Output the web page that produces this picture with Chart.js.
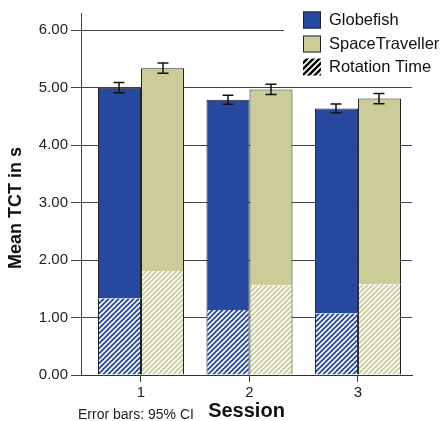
<!DOCTYPE html>
<html>
<head>
<meta charset="utf-8">
<script src="https://cdn.jsdelivr.net/npm/chart.js@4.4.0/dist/chart.umd.min.js"></script>
<style>
body { margin: 0; background: #fff; }
canvas { display: block; }
</style>
</head>
<body>
<canvas id="chart" width="443" height="421"></canvas>
<script>
// data
const sessions = ["1", "2", "3"]
const seriesNames = ["Globefish", "SpaceTraveller"]
const globefishTct = [5.00, 4.79, 4.64]
const spaceTct = [5.34, 4.97, 4.81]
const globefishRot = [1.33, 1.13, 1.07]
const spaceRot = [1.81, 1.56, 1.58]
const globefishCi = [0.09, 0.08, 0.075]
const spaceCi = [0.09, 0.09, 0.09]
const yTicks = [0, 1, 2, 3, 4, 5, 6]
const rotationLabel = "Rotation Time"
const yTitle = "Mean TCT in s"
const xTitle = "Session"
const note = "Error bars: 95% CI"

const blue = "#2748a0"
const khaki = "#cccc99"
const family = "'Liberation Sans', Arial, sans-serif"
Chart.defaults.font.family = family

function hatch(base, stripe, size, lw){
    let c = document.createElement("canvas")
    c.width = size
    c.height = size
    let g = c.getContext("2d")
    g.fillStyle = base
    g.fillRect(0, 0, size, size)
    g.strokeStyle = stripe
    g.lineWidth = lw
    g.beginPath()
    g.moveTo(-1, size + 1); g.lineTo(size + 1, -1)
    g.moveTo(-1, 1); g.lineTo(1, -1)
    g.moveTo(size - 1, size + 1); g.lineTo(size + 1, size - 1)
    g.stroke()
    return g.createPattern(c, "repeat")
}

function points(vals){
    return vals.map((v, i) => ({x: i + 1, y: v}))
}

const sideBorder = {left: 1, right: 1, top: 0, bottom: 0}
const capBorder = {left: 1, right: 1, top: 1, bottom: 0}

const datasets = [
    {
        label: seriesNames[0] + " " + rotationLabel,
        data: points(globefishRot),
        stack: "g",
        backgroundColor: hatch(blue, "#fff", 5, 1.6),
        borderColor: "#222",
        borderWidth: sideBorder
    },
    {
        label: seriesNames[0],
        data: points(globefishTct.map((v, i) => v - globefishRot[i])),
        stack: "g",
        backgroundColor: blue,
        borderColor: "#222",
        borderWidth: capBorder
    },
    {
        label: seriesNames[1] + " " + rotationLabel,
        data: points(spaceRot),
        stack: "s",
        backgroundColor: hatch(khaki, "#fff", 5, 1.6),
        borderColor: "#222",
        borderWidth: sideBorder
    },
    {
        label: seriesNames[1],
        data: points(spaceTct.map((v, i) => v - spaceRot[i])),
        stack: "s",
        backgroundColor: khaki,
        borderColor: "#222",
        borderWidth: capBorder
    }
]

const errorBars = {
    id: "errorBars",
    afterDatasetsDraw(chart){
        const ctx = chart.ctx
        const y = chart.scales.y
        const sets = [[1, globefishTct, globefishCi], [3, spaceTct, spaceCi]]
        ctx.save()
        ctx.strokeStyle = "#111"
        ctx.lineWidth = 1.5
        for(let [di, tops, cis] of sets){
            chart.getDatasetMeta(di).data.forEach((bar, i) => {
                let x = Math.round(bar.x)
                let y1 = y.getPixelForValue(tops[i] + cis[i])
                let y2 = y.getPixelForValue(tops[i] - cis[i])
                ctx.beginPath()
                ctx.moveTo(x, y1); ctx.lineTo(x, y2)
                ctx.moveTo(x - 5.5, y1); ctx.lineTo(x + 5.5, y1)
                ctx.moveTo(x - 5.5, y2); ctx.lineTo(x + 5.5, y2)
                ctx.stroke()
            })
        }
        ctx.restore()
    }
}

const extras = {
    id: "extras",
    afterDraw(chart){
        const ctx = chart.ctx
        ctx.save()
        // legend box sits over the top grid line
        ctx.fillStyle = "#fff"
        ctx.fillRect(284, 0, chart.width - 284, 80)
        let items = [
            {text: seriesNames[0], fill: blue, edge: true},
            {text: seriesNames[1], fill: khaki, edge: true},
            {text: rotationLabel, fill: hatch("#fff", "#000", 6, 2.4), edge: false}
        ]
        let rows = [20, 44, 67]
        ctx.font = "16.5px " + family
        ctx.textBaseline = "middle"
        items.forEach((it, i) => {
            let cy = rows[i]
            ctx.fillStyle = it.fill
            ctx.fillRect(303, cy - 8.5, 18, 17)
            if(it.edge){
                ctx.strokeStyle = "#222"
                ctx.lineWidth = 1
                ctx.strokeRect(303.5, cy - 8, 17, 16)
            }
            ctx.fillStyle = "#111"
            ctx.fillText(it.text, 329, cy)
        })

        ctx.font = "bold 18px " + family
        ctx.textAlign = "center"
        ctx.translate(16, 208)
        ctx.rotate(-Math.PI / 2)
        ctx.fillText(yTitle, 0, 0)
        ctx.setTransform(1, 0, 0, 1, 0, 0)

        ctx.font = "14px " + family
        ctx.textAlign = "left"
        ctx.fillStyle = "#222"
        ctx.fillText(note, 78, 415)
        ctx.restore()
    }
}

new Chart(document.getElementById("chart"), {
    type: "bar",
    data: {datasets},
    options: {
        responsive: false,
        animation: false,
        devicePixelRatio: 1,
        categoryPercentage: 0.793,
        barPercentage: 1,
        layout: {padding: {top: 13, right: 31, bottom: 0, left: 0}},
        plugins: {
            legend: {display: false},
            tooltip: {enabled: false}
        },
        scales: {
            x: {
                type: "linear",
                min: 0.447,
                max: 3.498,
                offset: false,
                afterBuildTicks: s => { s.ticks = sessions.map((c, i) => ({value: i + 1})) },
                afterFit: s => { s.height = 46 },
                ticks: {
                    callback: (v, i) => sessions[i],
                    font: {size: 15},
                    color: "#222",
                    padding: 2,
                    maxRotation: 0
                },
                grid: {offset: false, drawOnChartArea: false, drawTicks: true, tickLength: 7, color: "#333"},
                border: {color: "#333"},
                title: {
                    display: true,
                    text: xTitle,
                    color: "#111",
                    font: {size: 20, weight: "bold", lineHeight: 1},
                    padding: 0
                }
            },
            y: {
                stacked: true,
                min: 0,
                max: 6.3,
                afterBuildTicks: s => { s.ticks = yTicks.map(v => ({value: v})) },
                afterFit: s => { s.width = 81 },
                ticks: {
                    callback: v => v.toFixed(2),
                    font: {size: 15},
                    color: "#222",
                    padding: 3
                },
                grid: {color: "#444", tickLength: 10},
                border: {color: "#444"}
            }
        }
    },
    plugins: [errorBars, extras]
})
</script>
</body>
</html>
